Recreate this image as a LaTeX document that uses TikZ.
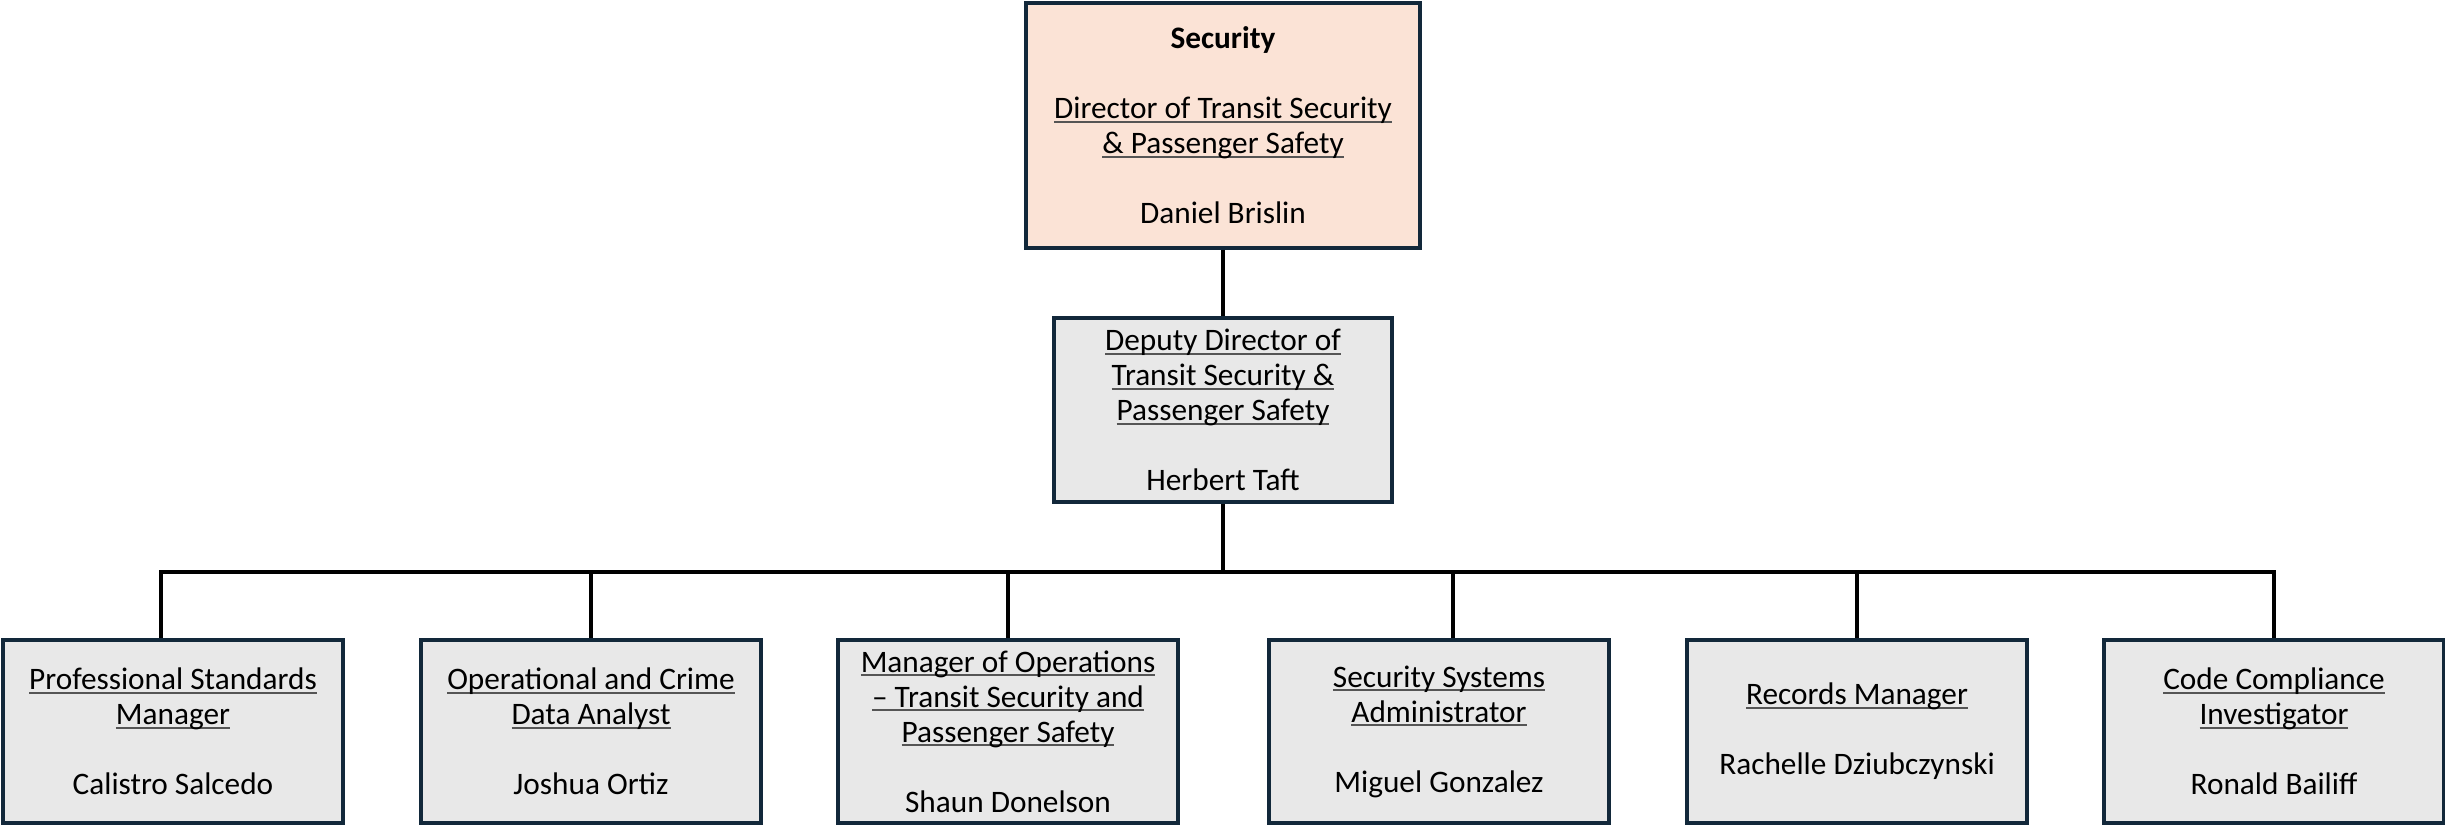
\documentclass[tikz,border=0pt]{standalone}
\usepackage{fontspec}
\setmainfont{Carlito}
\usetikzlibrary{positioning}

\definecolor{boxline}{HTML}{12283A}
\definecolor{boxgray}{HTML}{E8E8E8}
\definecolor{boxpeach}{HTML}{FBE3D6}
\definecolor{ulgray}{HTML}{555555}

% underlined title line
\newcommand{\tline}[1]{\setbox0\hbox{#1}\rlap{\color{ulgray}\rule[-1.1pt]{\wd0}{0.5pt}}\box0}

\tikzset{
	unitbox/.style={draw=boxline, line width=1.1pt, fill=boxgray, align=center, inner sep=0pt,
		font=\fontsize{8.9}{9.96}\selectfont},
	topbox/.style={unitbox, fill=boxpeach, minimum width=3.94cm, minimum height=2.45cm},
	deputybox/.style={unitbox, minimum width=3.38cm, minimum height=1.84cm},
	staffbox/.style={unitbox, minimum width=3.40cm, minimum height=1.83cm},
	link/.style={line width=1.2pt, black}
}

\begin{document}
\begin{tikzpicture}
		\useasboundingbox (0,0) rectangle (24.45,-8.26);
		
		\node[topbox] (dir) at (12.23,-1.255) {\textbf{Security}\\[\baselineskip]
			\tline{Director of Transit Security}\\ \tline{\& Passenger Safety}\\[\baselineskip]
			Daniel Brislin};
		\node[deputybox] (dep) at (12.23,-4.10) {\tline{Deputy Director of}\\ \tline{Transit Security \&}\\
			\tline{Passenger Safety}\\[\baselineskip] Herbert Taft};
		
		\foreach \n/\x/\t in {
			s1/1.73/{\tline{Professional Standards}\\ \tline{Manager}\\[\baselineskip] Calistro Salcedo},
			s2/5.91/{\tline{Operational and Crime}\\ \tline{Data Analyst}\\[\baselineskip] Joshua Ortiz},
			s3/10.08/{\tline{Manager of Operations}\\ \tline{-- Transit Security and}\\ \tline{Passenger Safety}\\[\baselineskip] Shaun Donelson},
			s4/14.39/{\tline{Security Systems}\\ \tline{Administrator}\\[\baselineskip] Miguel Gonzalez},
			s5/18.57/{\tline{Records Manager}\\[\baselineskip] Rachelle Dziubczynski},
			s6/22.74/{\tline{Code Compliance}\\ \tline{Investigator}\\[\baselineskip] Ronald Bailiff}}
		{
			\node[staffbox] (\n) at (\x,-7.315) {\t};
		}
		
		\coordinate (bar) at (12.23,-5.72);
		\draw[link] (dir) -- (dep);
		\draw[link] (dep) -- (bar);
		\draw[link] (bar) -| ([xshift=-0.12cm]s1.north);
		\draw[link] (bar) -| (s2.north);
		\draw[link] (bar) -| (s3.north);
		\draw[link] (bar) -| ([xshift=0.14cm]s4.north);
		\draw[link] (bar) -| (s5.north);
		\draw[link] (bar) -| (s6.north);
		
	\end{tikzpicture}
\end{document}
